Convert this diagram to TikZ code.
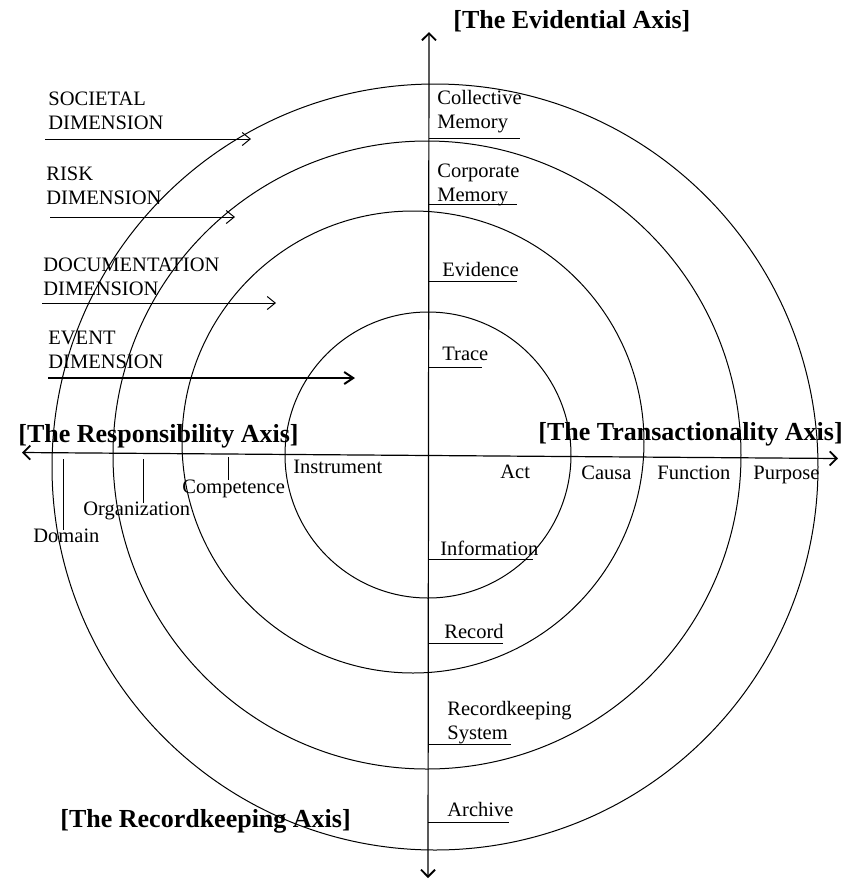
\documentclass[tikz,border=0pt]{standalone}
\usepackage{fontspec}
\setmainfont{Liberation Serif}
\usetikzlibrary{arrows.meta}
\newcommand{\twoline}[2]{\vtop{\hbox{#1}\hbox{#2}}}
\begin{document}
\begin{tikzpicture}[x=0.5pt,y=-0.5pt,
  lbl/.style={font=\fontsize{10.25pt}{12pt}\selectfont, inner sep=0pt, anchor=base west},
  ttl/.style={font=\fontsize{13pt}{15pt}\selectfont\bfseries, inner sep=0pt, anchor=base west},
  ring/.style={draw, line width=0.5pt},
  axisline/.style={line width=0.6pt, {Straight Barb[length=3.5pt,width=7pt,line width=0.9pt]}-{Straight Barb[length=3.5pt,width=7pt,line width=0.9pt]}},
  dimarrow/.style={line width=0.5pt, -{Straight Barb[length=4pt,width=6.5pt,line width=0.5pt]}},
  eventarrow/.style={line width=0.6pt, -{Straight Barb[length=4.5pt,width=6pt,line width=1pt]}},
  uline/.style={line width=0.5pt},
  tickline/.style={line width=0.5pt},
]
\useasboundingbox (0,0) rectangle (857,880);

% rings
\draw[ring] (428,455) circle[radius=71.5pt];
\draw[ring] (413,442) circle[radius=115.5pt];
\draw[ring] (427,455) circle[radius=157pt];
\draw[ring] (435,467) circle[radius=191.5pt];

% axes
\coordinate (vTop) at (429,32);
\coordinate (vBot) at (428,878);
\coordinate (hL) at (22,452.5);
\coordinate (hR) at (838,458.5);
\draw[axisline] (vBot) -- (vTop);
\draw[axisline] (hL) -- (hR);

% axis titles
\node[ttl] (tEvid) at (453,28) {[The Evidential Axis]};
\node[ttl] (tResp) at (18,442) {[The Responsibility Axis]};
\node[ttl] (tTrans) at (538,440) {[The Transactionality Axis]};
\node[ttl] (tRec) at (60,827) {[The Recordkeeping Axis]};

% dimensions
\node[lbl] (dSoc) at (48,105) {\twoline{SOCIETAL}{DIMENSION}};
\coordinate (sA) at (45,139); \coordinate (sB) at (251,139);
\draw[dimarrow] (sA) -- (sB);
\node[lbl] (dRisk) at (46,180) {\twoline{RISK}{DIMENSION}};
\coordinate (rA) at (50,217); \coordinate (rB) at (235,217);
\draw[dimarrow] (rA) -- (rB);
\node[lbl] (dDoc) at (43,271) {\twoline{DOCUMENTATION}{DIMENSION}};
\coordinate (dA) at (42,303); \coordinate (dB) at (276,303);
\draw[dimarrow] (dA) -- (dB);
\node[lbl] (dEv) at (48,344) {\twoline{EVENT}{DIMENSION}};
\coordinate (eA) at (48,378); \coordinate (eB) at (355,378);
\draw[eventarrow] (eA) -- (eB);

% evidential axis labels
\node[lbl] (lCol) at (437,104) {\twoline{Collective}{Memory}};
\draw[uline] (429,138) -- (520,138);
\node[lbl] (lCorp) at (437,177) {\twoline{Corporate}{Memory}};
\draw[uline] (429,204) -- (517,204);
\node[lbl] (lEvid) at (442,276) {Evidence};
\draw[uline] (429,281) -- (517,281);
\node[lbl] (lTrace) at (442,360) {Trace};
\draw[uline] (429,367) -- (482,367);

% recordkeeping axis labels
\node[lbl] (lInfo) at (440,555) {Information};
\draw[uline] (429,559) -- (533,559);
\node[lbl] (lRec) at (444,638) {Record};
\draw[uline] (429,643) -- (503,643);
\node[lbl] (lRKS) at (447,715) {\twoline{Recordkeeping}{System}};
\draw[uline] (429,744) -- (511,744);
\node[lbl] (lArch) at (447,816) {Archive};
\draw[uline] (428,822) -- (509,822);

% transactionality axis labels
\node[lbl] (lAct) at (500,478) {Act};
\node[lbl] (lCausa) at (581,479) {Causa};
\node[lbl] (lFunc) at (657,479) {Function};
\node[lbl] (lPurp) at (753,479) {Purpose};

% responsibility axis labels
\node[lbl] (lInst) at (293,473) {Instrument};
\node[lbl] (lComp) at (182,493) {Competence};
\draw[tickline] (228,457) -- (228,480);
\node[lbl] (lOrg) at (83,515) {Organization};
\draw[tickline] (143,459) -- (143,503);
\node[lbl] (lDom) at (33,542) {Domain};
\draw[tickline] (63,459) -- (63,530);
\end{tikzpicture}
\end{document}
